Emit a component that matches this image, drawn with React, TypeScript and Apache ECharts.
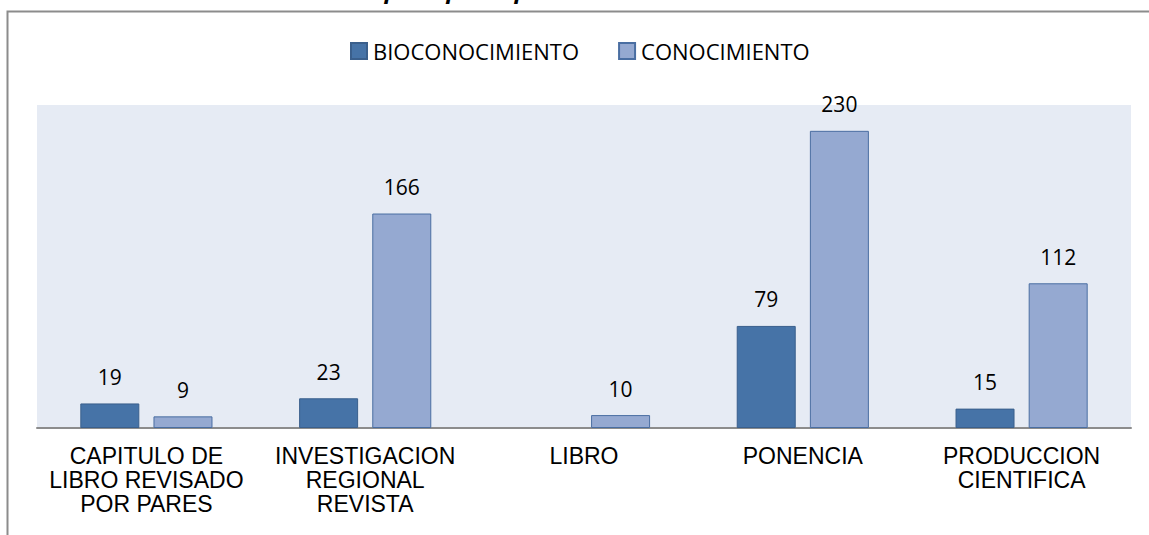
import React, { useEffect, useRef } from "react";
import * as echarts from "echarts";

const categories = [
  "CAPITULO DE\nLIBRO REVISADO\nPOR PARES",
  "INVESTIGACION\nREGIONAL\nREVISTA",
  "LIBRO",
  "PONENCIA",
  "PRODUCCION\nCIENTIFICA",
];
const bioconocimiento = [19, 23, 0, 79, 15];
const conocimiento = [9, 166, 10, 230, 112];
const seriesNames = ["BIOCONOCIMIENTO", "CONOCIMIENTO"];
const titleText = "Distribución del conocimiento por tipo de publicación";

export default function App() {
  const ref = useRef<HTMLDivElement>(null);
  useEffect(() => {
    if (!ref.current) return;
    const chart = echarts.init(ref.current, null, { renderer: "svg" });
    const labelCfg = {
      show: true,
      position: "top",
      distance: 16,
      fontSize: 21,
      color: "#000",
      fontFamily: "Open Sans, Noto Sans, sans-serif",
      formatter: (p: any) => (p.value ? String(p.value) : ""),
    };
    const toData = (arr: number[]) =>
      arr.map((v) => (v === 0 ? { value: v, itemStyle: { borderWidth: 0 } } : v));
    chart.setOption({
      animation: false,
      backgroundColor: "#fff",
      graphic: [
        {
          type: "rect",
          shape: { x: 7.5, y: 11.5, width: 1200, height: 600 },
          style: { fill: "none", stroke: "#8c8c8c", lineWidth: 2 },
          silent: true,
        },
        {
          type: "text",
          left: 40,
          top: -24,
          style: {
            text: titleText,
            font: "italic bold 24px 'Open Sans', sans-serif",
            fill: "#000",
          },
          silent: true,
        },
      ],
      legend: {
        top: 35,
        left: 345,
        itemWidth: 16,
        itemHeight: 16,
        itemGap: 39,
        icon: "rect",
        textStyle: {
          fontSize: 22,
          color: "#000",
          fontFamily: "Open Sans, Noto Sans, sans-serif",
          padding: [0, 0, 0, 1],
        },
        data: seriesNames,
      },
      grid: {
        left: 37,
        right: 18,
        top: 105,
        bottom: 107,
        show: true,
        backgroundColor: "#E6EBF4",
        borderWidth: 0,
      },
      xAxis: {
        type: "category",
        data: categories,
        axisLine: { lineStyle: { color: "#8c8c8c", width: 2 } },
        axisTick: { show: false },
        axisLabel: {
          interval: 0,
          margin: 16,
          fontSize: 23,
          lineHeight: 24,
          color: "#000",
          fontFamily: "Liberation Sans, Arial, sans-serif",
        },
      },
      yAxis: {
        type: "value",
        min: 0,
        max: 250,
        show: false,
        splitLine: { show: false },
      },
      series: [
        {
          name: seriesNames[0],
          type: "bar",
          data: toData(bioconocimiento),
          barWidth: 59,
          barGap: "24%",
          itemStyle: { color: "#4673A7", borderColor: "#3A5F8C", borderWidth: 1 },
          label: labelCfg,
        },
        {
          name: seriesNames[1],
          type: "bar",
          data: toData(conocimiento),
          barWidth: 59,
          barGap: "24%",
          itemStyle: { color: "#95A9D1", borderColor: "#4A6EA2", borderWidth: 1 },
          label: labelCfg,
        },
      ],
    });
    return () => chart.dispose();
  }, []);
  return (
    <div
      ref={ref}
      style={{ position: "fixed", left: 0, top: 0, width: 1149, height: 535 }}
    />
  );
}
